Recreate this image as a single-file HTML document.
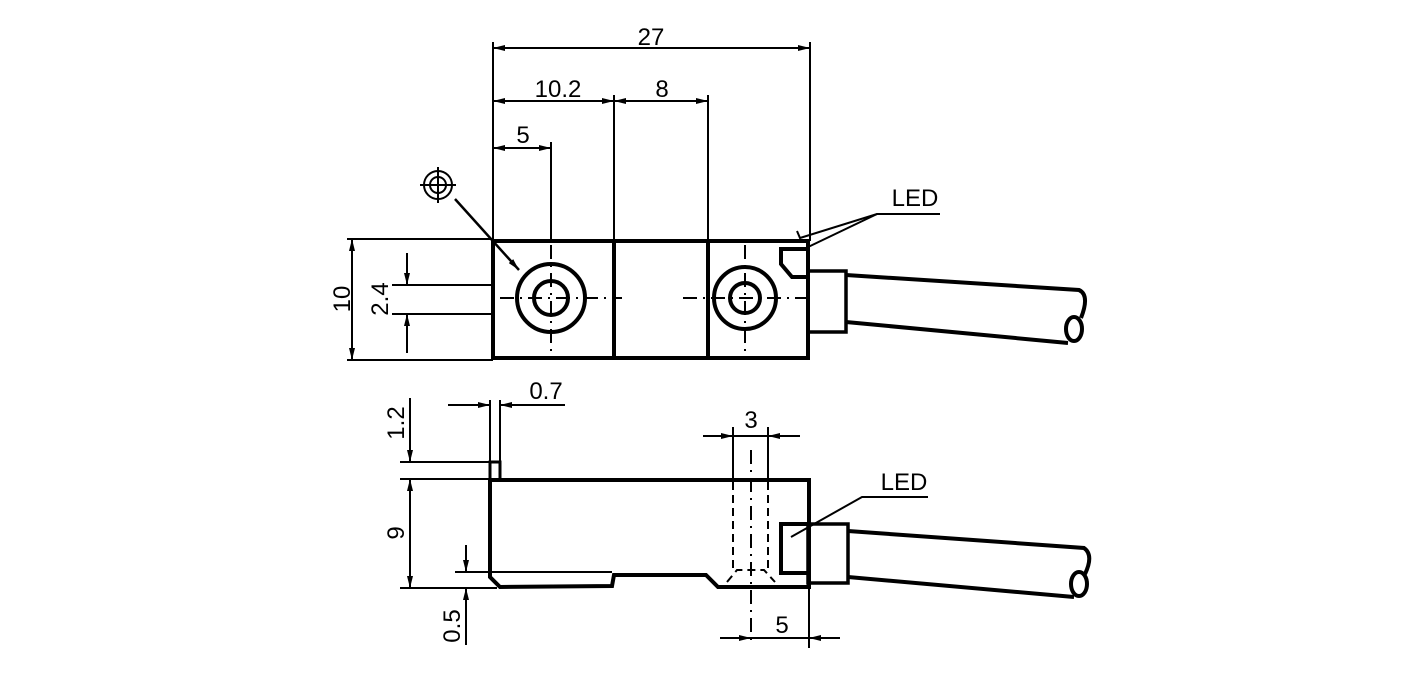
<!DOCTYPE html>
<html><head><style>html,body{margin:0;padding:0;background:#fff}svg{display:block}
text{font-family:"Liberation Sans",sans-serif;font-size:24px;fill:#000}</style></head><body>
<svg width="1417" height="673" viewBox="0 0 1417 673" xmlns="http://www.w3.org/2000/svg">
<defs><marker id="a" viewBox="0 0 12 6" refX="12" refY="3" markerWidth="12" markerHeight="6" orient="auto-start-reverse" markerUnits="userSpaceOnUse"><path d="M0,0L12,3L0,6z" fill="#000"/></marker></defs>
<g stroke="#000" fill="none">
<g stroke-width="2">
<line x1="493" y1="42" x2="493" y2="241"/><line x1="810" y1="42" x2="810" y2="241"/>
<line x1="614" y1="95" x2="614" y2="241"/><line x1="708" y1="95" x2="708" y2="241"/>
<line x1="551" y1="142" x2="551" y2="241"/>
<line x1="493" y1="48" x2="810" y2="48" marker-start="url(#a)" marker-end="url(#a)"/>
<line x1="493" y1="101" x2="614" y2="101" marker-start="url(#a)" marker-end="url(#a)"/>
<line x1="614" y1="101" x2="708" y2="101" marker-start="url(#a)" marker-end="url(#a)"/>
<line x1="493" y1="148" x2="551" y2="148" marker-start="url(#a)" marker-end="url(#a)"/>
<line x1="347" y1="239" x2="493" y2="239"/><line x1="347" y1="360" x2="493" y2="360"/>
<line x1="352" y1="239" x2="352" y2="360" marker-start="url(#a)" marker-end="url(#a)"/>
<line x1="392" y1="285" x2="493" y2="285"/><line x1="392" y1="314" x2="493" y2="314"/>
<line x1="407" y1="253" x2="407" y2="285" marker-end="url(#a)"/>
<line x1="407" y1="353" x2="407" y2="314" marker-end="url(#a)"/>
<circle cx="438" cy="185" r="14"/><circle cx="438" cy="185" r="8"/>
<line x1="420" y1="185" x2="456" y2="185"/><line x1="438" y1="167" x2="438" y2="203"/>
<line x1="455" y1="199" x2="519" y2="270" marker-end="url(#a)" stroke-width="2.5"/>
<polyline points="940,214 877,214 800,238 797,231"/>
<line x1="877" y1="214" x2="806" y2="248"/>
<g stroke-dasharray="14,6,2,6"><line x1="500" y1="298" x2="622" y2="298"/><line x1="551" y1="245" x2="551" y2="355"/>
<line x1="683" y1="298" x2="806" y2="298"/><line x1="745" y1="245" x2="745" y2="355"/></g>
</g>
<g stroke-width="4">
<rect x="493" y="241" width="315" height="117"/>
<line x1="614" y1="241" x2="614" y2="358"/><line x1="708" y1="241" x2="708" y2="358"/>
<circle cx="551" cy="298" r="34"/><circle cx="551" cy="298" r="17"/>
<circle cx="745" cy="298" r="31"/><circle cx="745" cy="298" r="15"/>
<polyline points="806,249 781,249 781,264 792,277 806,277"/>
<rect x="808" y="271" width="38" height="61" stroke-width="3.5"/>
<path d="M846,275 L1079,290 Q1090,295 1081,318"/>
<path d="M846,322 L1068,343"/>
<ellipse cx="1074" cy="329" rx="8" ry="12"/>
</g>
<g stroke-width="2">
<line x1="490" y1="400" x2="490" y2="462"/><line x1="500" y1="400" x2="500" y2="462"/>
<line x1="448" y1="405" x2="490" y2="405" marker-end="url(#a)"/>
<line x1="565" y1="405" x2="500" y2="405" marker-end="url(#a)"/>
<line x1="400" y1="462" x2="490" y2="462"/><line x1="400" y1="479" x2="490" y2="479"/>
<line x1="410" y1="398" x2="410" y2="462" marker-end="url(#a)"/>
<line x1="410" y1="479" x2="410" y2="588" marker-start="url(#a)" marker-end="url(#a)"/>
<line x1="400" y1="588" x2="497" y2="588"/><line x1="455" y1="572" x2="612" y2="572"/>
<line x1="466" y1="545" x2="466" y2="572" marker-end="url(#a)"/>
<line x1="466" y1="645" x2="466" y2="588" marker-end="url(#a)"/>
<line x1="733" y1="427" x2="733" y2="480"/><line x1="768" y1="427" x2="768" y2="480"/>
<line x1="703" y1="436" x2="733" y2="436" marker-end="url(#a)"/>
<line x1="800" y1="436" x2="768" y2="436" marker-end="url(#a)"/>
<line x1="733" y1="436" x2="768" y2="436"/>
<line x1="751" y1="450" x2="751" y2="645" stroke-dasharray="14,6,2,6"/>
<line x1="809" y1="588" x2="809" y2="648"/>
<line x1="720" y1="638" x2="751" y2="638" marker-end="url(#a)"/>
<line x1="840" y1="638" x2="809" y2="638" marker-end="url(#a)"/>
<line x1="751" y1="638" x2="809" y2="638"/>
<g stroke-dasharray="8,5"><line x1="733" y1="482" x2="733" y2="568"/><line x1="768" y1="482" x2="768" y2="568"/>
<polyline points="727,582 737,570 764,570 775,582"/></g>
<polyline points="928,497 862,497 791,537"/>
</g>
<g stroke-width="4">
<path d="M490,480 L809,480 L809,587 L718,587 L706,575 L614,575 L612,586 L500,587 L490,577 Z"/>
<rect x="490" y="462" width="10" height="18" stroke-width="3"/>
<polyline points="808,573 781,573 781,524 808,524"/>
<rect x="808" y="524" width="40" height="59" stroke-width="3.5"/>
<path d="M848,531 L1084,548 Q1094,555 1085,574"/>
<path d="M848,577 L1074,597"/>
<ellipse cx="1079" cy="584" rx="8" ry="12"/>
</g>
</g>
<text x="651" y="45" text-anchor="middle">27</text>
<text x="558" y="97" text-anchor="middle">10.2</text>
<text x="662" y="97" text-anchor="middle">8</text>
<text x="523" y="143" text-anchor="middle">5</text>
<text x="915" y="206" text-anchor="middle">LED</text>
<text x="904" y="490" text-anchor="middle">LED</text>
<text x="546" y="399" text-anchor="middle">0.7</text>
<text x="751" y="428" text-anchor="middle">3</text>
<text x="782" y="633" text-anchor="middle">5</text>
<text transform="translate(350,299) rotate(-90)" text-anchor="middle">10</text>
<text transform="translate(388,299) rotate(-90)" text-anchor="middle">2.4</text>
<text transform="translate(404,423) rotate(-90)" text-anchor="middle">1.2</text>
<text transform="translate(404,533) rotate(-90)" text-anchor="middle">9</text>
<text transform="translate(460,626) rotate(-90)" text-anchor="middle">0.5</text>
</svg>
</body></html>
